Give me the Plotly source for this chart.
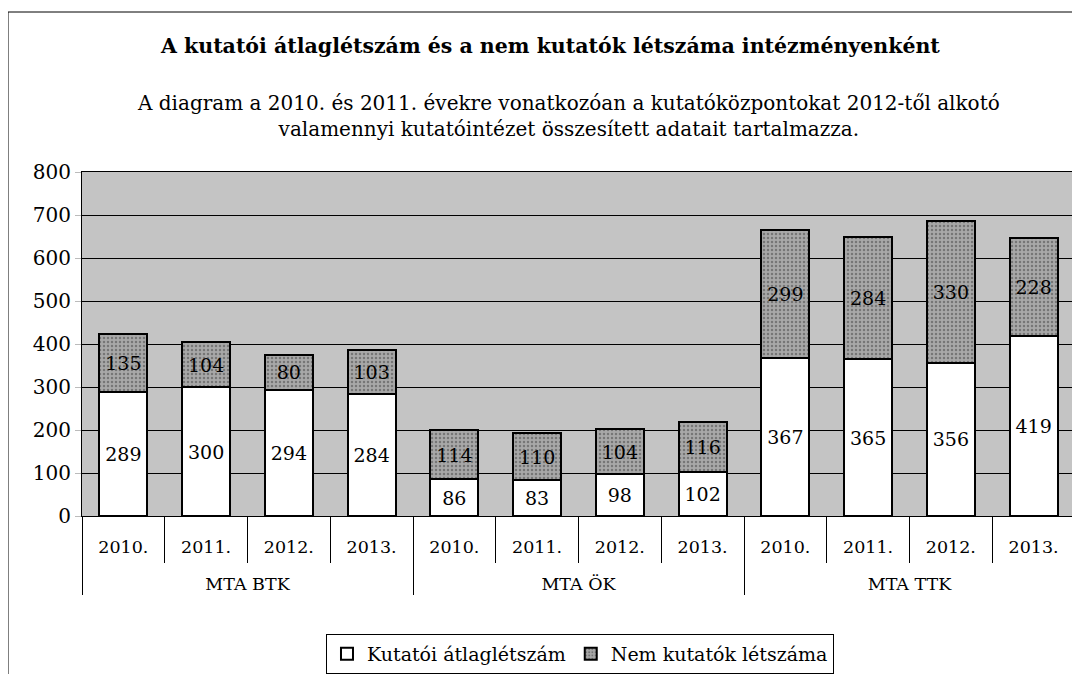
import plotly.graph_objects as go

institutes = ["MTA BTK"] * 4 + ["MTA ÖK"] * 4 + ["MTA TTK"] * 4
years = ["2010.", "2011.", "2012.", "2013."] * 3
kutatoi = [289, 300, 294, 284, 86, 83, 98, 102, 367, 365, 356, 419]
nem_kutatok = [135, 104, 80, 103, 114, 110, 104, 116, 299, 284, 330, 228]
y_ticks = [0, 100, 200, 300, 400, 500, 600, 700, 800]

FONT = "DejaVu Serif"
year_labels = [y + "<br><span style='font-size:43px'> </span>" for y in years]

fig = go.Figure()
fig.add_trace(go.Bar(
    x=[institutes, year_labels], y=kutatoi, name="Kutatói átlaglétszám",
    marker=dict(color="white", line=dict(color="black", width=2)),
    text=kutatoi, textposition="inside", insidetextanchor="middle",
    textfont=dict(family=FONT, size=19, color="black"), textangle=0,
))
fig.add_trace(go.Bar(
    x=[institutes, year_labels], y=nem_kutatok, name="Nem kutatók létszáma",
    marker=dict(color="#a0a0a0", line=dict(color="black", width=2),
                pattern=dict(shape=".", fgcolor="#444444", bgcolor="#a8a8a8",
                             size=4, solidity=0.3)),
    text=nem_kutatok, textposition="inside", insidetextanchor="middle",
    textfont=dict(family=FONT, size=19, color="black"), textangle=0,
))

# page is offset 8px by body margin: figure is 1072x666
fig.update_layout(
    width=1072, height=666,
    barmode="stack", bargap=0.42,
    paper_bgcolor="white", plot_bgcolor="#c4c4c4",
    margin=dict(l=74, r=5, t=164, b=158, autoexpand=False),
    font=dict(family=FONT, size=17, color="black"),
    uniformtext=dict(minsize=12, mode="show"),
    showlegend=True,
    legend=dict(orientation="h", x=0.5015, xanchor="center", y=-0.343, yanchor="top",
                bordercolor="black", borderwidth=1, bgcolor="white",
                font=dict(family=FONT, size=19), itemwidth=30, traceorder="normal"),
)
fig.update_yaxes(
    range=[0, 800], tickvals=y_ticks, showgrid=True, gridcolor="black", gridwidth=1,
    showline=True, linecolor="black", linewidth=1, mirror=True,
    ticks="outside", ticklen=6, tickcolor="#bbbbbb",
    tickfont=dict(family=FONT, size=20), zeroline=False, automargin=False,
)
fig.update_xaxes(
    showline=True, linecolor="black", linewidth=1, mirror=True,
    ticks="outside", tickson="boundaries", ticklen=46, tickcolor="black", dtick=1,
    showdividers=True, dividercolor="black", dividerwidth=1,
    ticklabelstandoff=15,
    tickfont=dict(family=FONT, size=17.5), automargin=False,
)

# Titles
fig.add_annotation(text="<b>A kutatói átlaglétszám és a nem kutatók létszáma intézményenként</b>",
                   xref="paper", yref="paper", x=0.471, y=(516 - 46) / 344, showarrow=False,
                   font=dict(family=FONT, size=20.5), xanchor="center", yanchor="middle")
fig.add_annotation(text="A diagram a 2010. és 2011. évekre vonatkozóan a kutatóközpontokat 2012-től alkotó<br>valamennyi kutatóintézet összesített adatait tartalmazza.",
                   xref="paper", yref="paper", x=0.49, y=(516 - 116) / 344, showarrow=False,
                   font=dict(family=FONT, size=20), xanchor="center", yanchor="middle",
                   align="center")

# Outer chart frame
fig.add_shape(type="rect", xref="paper", yref="paper",
              x0=(8 - 82) / 993, x1=1.2, y0=-2, y1=(516 - 12) / 344,
              line=dict(color="black", width=1), fillcolor="rgba(0,0,0,0)", layer="below")

fig.write_html("out.html")
